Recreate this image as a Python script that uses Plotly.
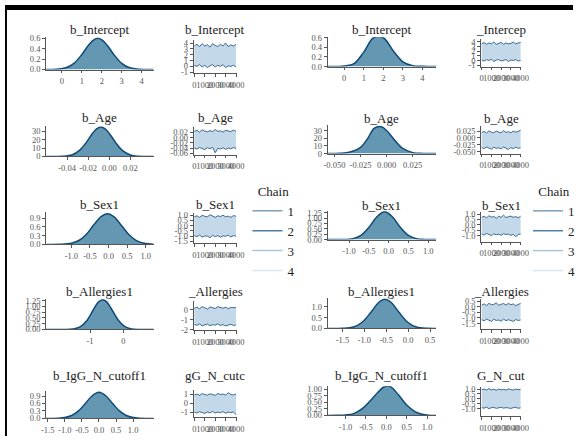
import plotly.graph_objects as go

W, H = 581, 441
FONT = "Liberation Serif"

# ---------------- data ----------------
ITER = [0, 250, 500, 750, 1000, 1250, 1500, 1750, 2000, 2250, 2500, 2750, 3000, 3250, 3500, 3750, 4000]
CHAINS = ["1", "2", "3", "4"]
CHAIN_COLORS = ["#7f9fba", "#4f7ea3", "#a9c6dc", "#dbe7f1"]

# left panel densities
L_int_x = [-0.8, -0.3, 0.2, 0.6, 1.0, 1.3, 1.6, 1.8, 2.0, 2.3, 2.6, 3.0, 3.4, 3.9, 4.6]
L_int_y = [0.0, 0.004, 0.033, 0.119, 0.29, 0.45, 0.57, 0.60, 0.57, 0.45, 0.29, 0.119, 0.033, 0.004, 0.0]
L_age_x = [-0.06, -0.045, -0.035, -0.028, -0.022, -0.016, -0.012, -0.008, -0.004, 0.0, 0.006, 0.012, 0.02, 0.028, 0.042]
L_age_y = [0.0, 0.18, 2.1, 7.5, 16.5, 27.4, 32.9, 35.0, 32.9, 27.4, 16.5, 7.5, 1.7, 0.24, 0.0]
L_sex_x = [-1.68, -1.3, -1.0, -0.8, -0.6, -0.4, -0.2, -0.03, 0.15, 0.35, 0.55, 0.75, 0.95, 1.21]
L_sex_y = [0.0, 0.004, 0.041, 0.134, 0.34, 0.66, 0.95, 1.05, 0.94, 0.64, 0.33, 0.13, 0.038, 0.005]
L_all_x = [-2.32, -1.8, -1.5, -1.3, -1.1, -0.9, -0.75, -0.62, -0.5, -0.35, -0.15, 0.05, 0.25, 0.5, 0.91]
L_all_y = [0.0, 0.0, 0.021, 0.11, 0.38, 0.86, 1.19, 1.30, 1.20, 0.88, 0.40, 0.12, 0.024, 0.002, 0.0]
L_igg_x = [-1.55, -1.2, -1.0, -0.8, -0.6, -0.4, -0.2, 0.0, 0.2, 0.4, 0.6, 0.8, 1.0, 1.2, 1.6]
L_igg_y = [0.0, 0.007, 0.033, 0.116, 0.30, 0.60, 0.91, 1.05, 0.91, 0.60, 0.30, 0.116, 0.033, 0.007, 0.0]

# right panel densities
R_int_x = [-0.85, 0.0, 0.5, 1.0, 1.5, 2.0, 2.5, 3.0, 3.5, 4.0, 4.7]
R_int_y = [0.0, 0.01, 0.06, 0.30, 0.60, 0.60, 0.33, 0.10, 0.02, 0.005, 0.0]
R_age_x = [-0.0566, -0.045, -0.035, -0.025, -0.018, -0.012, -0.005, 0.0, 0.008, 0.015, 0.025, 0.035, 0.0475]
R_age_y = [0.0, 0.3, 2.0, 8.0, 20.0, 33.0, 35.0, 30.0, 17.0, 7.0, 1.2, 0.2, 0.0]
R_sex_x = [-1.54, -1.2, -0.9, -0.7, -0.5, -0.3, -0.1, 0.1, 0.3, 0.5, 0.7, 0.9, 1.2]
R_sex_y = [0.0, 0.002, 0.043, 0.19, 0.56, 1.05, 1.30, 1.05, 0.56, 0.19, 0.043, 0.006, 0.0]
R_all_x = [-1.84, -1.5, -1.25, -1.05, -0.85, -0.68, -0.53, -0.38, -0.21, -0.01, 0.19, 0.44, 0.64]
R_all_y = [0.0, 0.006, 0.069, 0.29, 0.75, 1.19, 1.35, 1.19, 0.75, 0.29, 0.069, 0.006, 0.0]
R_igg_x = [-1.44, -1.2, -1.0, -0.8, -0.6, -0.4, -0.2, -0.05, 0.1, 0.3, 0.5, 0.7, 0.9, 1.22]
R_igg_y = [0.0, 0.01, 0.02, 0.07, 0.25, 0.55, 0.90, 1.10, 1.10, 0.78, 0.40, 0.15, 0.04, 0.0]

# trace envelopes (upper / lower extent of the 4 chains)
L_int_hi = [3.5, 3.8, 3.4, 3.9, 3.5, 3.7, 3.3, 3.9, 3.6, 3.4, 3.8, 3.5, 4.0, 3.4, 3.7, 3.5, 3.8]
L_int_lo = [0.2, 0.0, 0.3, -0.1, 0.2, -0.2, 0.1, 0.3, -0.1, 0.2, 0.0, 0.3, -0.2, 0.1, 0.0, 0.2, -0.1]
L_age_hi = [0.024, 0.028, 0.021, 0.030, 0.025, 0.022, 0.027, 0.023, 0.031, 0.024, 0.026, 0.021, 0.028, 0.025, 0.023, 0.029, 0.024]
L_age_lo = [-0.040, -0.044, -0.038, -0.042, -0.046, -0.039, -0.043, -0.037, -0.058, -0.041, -0.044, -0.039, -0.045, -0.040, -0.043, -0.038, -0.042]
L_sex_hi = [0.85, 0.95, 0.8, 1.0, 0.9, 0.85, 1.05, 0.9, 0.8, 0.95, 0.88, 1.0, 0.85, 0.92, 0.8, 0.97, 0.9]
L_sex_lo = [-0.95, -1.05, -0.9, -1.1, -0.98, -1.0, -1.15, -0.92, -1.05, -0.95, -1.1, -0.97, -1.02, -0.9, -1.08, -0.95, -1.0]
L_all_hi = [0.15, 0.25, 0.1, 0.3, 0.2, 0.05, 0.28, 0.18, 0.12, 0.3, 0.2, 0.15, 0.25, 0.1, 0.22, 0.18, 0.2]
L_all_lo = [-1.45, -1.55, -1.4, -1.6, -1.5, -1.42, -1.58, -1.48, -1.52, -1.4, -1.55, -1.47, -1.6, -1.5, -1.44, -1.56, -1.5]
L_igg_hi = [0.95, 1.05, 0.9, 1.1, 1.0, 0.92, 1.08, 0.97, 0.9, 1.12, 1.0, 1.05, 0.93, 1.2, 1.0, 0.95, 1.05]
L_igg_lo = [-1.0, -1.1, -0.95, -1.05, -1.15, -0.98, -1.08, -0.92, -1.1, -1.0, -1.05, -0.95, -1.12, -1.0, -1.06, -0.97, -1.3]

R_int_hi = [3.6, 3.9, 3.5, 3.8, 3.6, 4.0, 3.5, 3.7, 3.9, 3.5, 3.8, 3.6, 3.7, 4.0, 3.6, 3.8, 3.9]
R_int_lo = [0.1, -0.1, 0.2, 0.0, 0.3, -0.2, 0.1, 0.2, -0.1, 0.0, 0.2, -0.2, 0.1, 0.0, 0.2, -0.1, 0.0]
R_age_hi = [0.020, 0.024, 0.018, 0.026, 0.021, 0.019, 0.025, 0.022, 0.018, 0.027, 0.020, 0.023, 0.019, 0.025, 0.021, 0.024, 0.028]
R_age_lo = [-0.035, -0.039, -0.033, -0.037, -0.041, -0.034, -0.038, -0.036, -0.040, -0.033, -0.037, -0.042, -0.035, -0.039, -0.034, -0.038, -0.036]
R_sex_hi = [0.7, 0.8, 0.65, 0.85, 0.72, 0.78, 0.62, 0.8, 0.7, 0.9, 0.68, 0.75, 0.82, 0.7, 0.78, 0.66, 0.8]
R_sex_lo = [-0.85, -0.95, -0.8, -0.9, -1.0, -0.83, -0.92, -0.87, -0.97, -0.82, -0.9, -0.86, -0.98, -0.88, -1.1, -0.9, -0.85]
R_all_hi = [0.15, 0.25, 0.1, 0.3, 0.18, 0.2, 0.35, 0.12, 0.22, 0.28, 0.15, 0.3, 0.18, 0.25, 0.1, 0.2, 0.3]
R_all_lo = [-1.15, -1.25, -1.1, -1.2, -1.3, -1.12, -1.22, -1.18, -1.28, -1.1, -1.24, -1.15, -1.2, -1.3, -1.14, -1.22, -1.18]
R_igg_hi = [0.95, 1.0, 0.9, 1.05, 0.92, 0.98, 0.88, 1.0, 0.93, 0.97, 0.9, 1.02, 0.95, 0.9, 1.0, 0.94, 0.98]
R_igg_lo = [-0.9, -0.95, -0.85, -1.0, -0.9, -0.88, -0.97, -0.92, -0.86, -0.95, -0.9, -0.93, -0.98, -0.9, -0.87, -0.96, -0.92]

# titles and ticks
L_DENS_TITLES = ["b_Intercept", "b_Age", "b_Sex1", "b_Allergies1", "b_IgG_N_cutoff1"]
L_TRACE_TITLES = ["b_Intercept", "b_Age", "b_Sex1", "_Allergies", "gG_N_cutc"]
R_DENS_TITLES = ["b_Intercept", "b_Age", "b_Sex1", "b_Allergies1", "b_IgG_N_cutoff1"]
R_TRACE_TITLES = ["_Intercep", "b_Age", "b_Sex1", "_Allergies", "G_N_cut"]

ITER_TICKS = [0, 1000, 2000, 3000, 4000]

# ---------------- layout specs (pixels) ----------------
left_rows = [
    dict(dx=L_int_x, dy=L_int_y, xr=[-0.8, 4.6], xt=[0, 1, 2, 3, 4], xl=["0", "1", "2", "3", "4"],
         yr=[0, 0.62], yt=[0, 0.2, 0.4, 0.6], yl=["0.0", "0.2", "0.4", "0.6"],
         hi=L_int_hi, lo=L_int_lo, tyr=[-1.2, 4.5], tyt=[-1, 0, 1, 2, 3, 4], tyl=["-1", "0", "1", "2", "3", "4"],
         dpos=(33, 66), tpos=(36, 70), ty=25),
    dict(dx=L_age_x, dy=L_age_y, xr=[-0.06, 0.042], xt=[-0.04, -0.02, 0.0, 0.02], xl=["-0.04", "-0.02", "0.00", "0.02"],
         yr=[0, 36], yt=[0, 10, 20, 30], yl=["0", "10", "20", "30"],
         hi=L_age_hi, lo=L_age_lo, tyr=[-0.065, 0.04], tyt=[-0.06, -0.04, -0.02, 0.0, 0.02],
         tyl=["-0.06", "-0.04", "-0.02", "0.00", "0.02"],
         dpos=(124, 155), tpos=(125, 153), ty=115),
    dict(dx=L_sex_x, dy=L_sex_y, xr=[-1.68, 1.21], xt=[-1.0, -0.5, 0.0, 0.5, 1.0], xl=["-1.0", "-0.5", "0.0", "0.5", "1.0"],
         yr=[0, 1.1], yt=[0, 0.3, 0.6, 0.9], yl=["0.0", "0.3", "0.6", "0.9"],
         hi=L_sex_hi, lo=L_sex_lo, tyr=[-1.7, 1.2], tyt=[-1.5, -1.0, -0.5, 0.0, 0.5, 1.0],
         tyl=["-1.5", "-1.0", "-0.5", "0.0", "0.5", "1.0"],
         dpos=(212, 245), tpos=(213, 244), ty=204),
    dict(dx=L_all_x, dy=L_all_y, xr=[-2.32, 0.91], xt=[-1, 0], xl=["-1", "0"],
         yr=[0, 1.32], yt=[0, 0.25, 0.5, 0.75, 1.0, 1.25], yl=["0.00", "0.25", "0.50", "0.75", "1.00", "1.25"],
         hi=L_all_hi, lo=L_all_lo, tyr=[-2.05, 0.85], tyt=[-2, -1, 0], tyl=["-2", "-1", "0"],
         dpos=(301, 332), tpos=(303, 333), ty=293),
    dict(dx=L_igg_x, dy=L_igg_y, xr=[-1.55, 1.6], xt=[-1.5, -1.0, -0.5, 0.0, 0.5, 1.0],
         xl=["-1.5", "-1.0", "-0.5", "0.0", "0.5", "1.0"],
         yr=[0, 1.1], yt=[0, 0.3, 0.6, 0.9], yl=["0.0", "0.3", "0.6", "0.9"],
         hi=L_igg_hi, lo=L_igg_lo, tyr=[-1.6, 1.5], tyt=[-1, 0, 1], tyl=["-1", "0", "1"],
         dpos=(395, 423), tpos=(394, 422), ty=379),
]
right_rows = [
    dict(dx=R_int_x, dy=R_int_y, xr=[-0.85, 4.7], xt=[0, 1, 2, 3, 4], xl=["0", "1", "2", "3", "4"],
         yr=[0, 0.61], yt=[0, 0.2, 0.4, 0.6], yl=["0.0", "0.2", "0.4", "0.6"],
         hi=R_int_hi, lo=R_int_lo, tyr=[-1.3, 4.6], tyt=[-1, 0, 1, 2, 3, 4], tyl=["-1", "0", "1", "2", "3", "4"],
         dpos=(33, 63), tpos=(35, 63), ty=25),
    dict(dx=R_age_x, dy=R_age_y, xr=[-0.0566, 0.0475], xt=[-0.05, -0.025, 0.0, 0.025],
         xl=["-0.050", "-0.025", "0.000", "0.025"],
         yr=[0, 37], yt=[0, 10, 20, 30], yl=["0", "10", "20", "30"],
         hi=R_age_hi, lo=R_age_lo, tyr=[-0.057, 0.043], tyt=[-0.05, -0.025, 0.0, 0.025],
         tyl=["-0.050", "-0.025", "0.000", "0.025"],
         dpos=(123, 152), tpos=(124, 152), ty=116),
    dict(dx=R_sex_x, dy=R_sex_y, xr=[-1.54, 1.2], xt=[-1.0, -0.5, 0.0, 0.5, 1.0], xl=["-1.0", "-0.5", "0.0", "0.5", "1.0"],
         yr=[0, 1.32], yt=[0, 0.25, 0.5, 0.75, 1.0, 1.25], yl=["0.00", "0.25", "0.50", "0.75", "1.00", "1.25"],
         hi=R_sex_hi, lo=R_sex_lo, tyr=[-1.55, 1.18], tyt=[-1.0, -0.5, 0.0, 0.5, 1.0],
         tyl=["-1.0", "-0.5", "0.0", "0.5", "1.0"],
         dpos=(211, 240), tpos=(212, 242), ty=205),
    dict(dx=R_all_x, dy=R_all_y, xr=[-1.84, 0.64], xt=[-1.5, -1.0, -0.5, 0.0, 0.5],
         xl=["-1.5", "-1.0", "-0.5", "0.0", "0.5"],
         yr=[0, 1.4], yt=[0, 0.5, 1.0], yl=["0.0", "0.5", "1.0"],
         hi=R_all_hi, lo=R_all_lo, tyr=[-2.02, 0.67], tyt=[-1.5, -1.0, -0.5, 0.0, 0.5],
         tyl=["-1.5", "-1.0", "-0.5", "0.0", "0.5"],
         dpos=(300, 331), tpos=(301, 332), ty=293),
    dict(dx=R_igg_x, dy=R_igg_y, xr=[-1.44, 1.22], xt=[-1.0, -0.5, 0.0, 0.5, 1.0], xl=["-1.0", "-0.5", "0.0", "0.5", "1.0"],
         yr=[0, 1.12], yt=[0, 0.25, 0.5, 0.75, 1.0], yl=["0.00", "0.25", "0.50", "0.75", "1.00"],
         hi=R_igg_hi, lo=R_igg_lo, tyr=[-1.8, 1.2], tyt=[-1.0, -0.5, 0.0, 0.5, 1.0],
         tyl=["-1.0", "-0.5", "0.0", "0.5", "1.0"],
         dpos=(390, 420), tpos=(391, 421), ty=379),
]

panels = [
    dict(rows=left_rows, dens_x=(42, 152), trace_x=(193, 237), dtitles=L_DENS_TITLES, ttitles=L_TRACE_TITLES,
         legend="legend"),
    dict(rows=right_rows, dens_x=(330, 441), trace_x=(487, 528), dtitles=R_DENS_TITLES, ttitles=R_TRACE_TITLES,
         legend="legend2"),
]

DENS_FILL = "#6497b1"
DENS_LINE = "#0f4a78"
BAND_FILL = "#c3d8e8"
BAND_LINE = "#2b5d85"
AXIS_COL = "#555555"
TICK_FONT = dict(family=FONT, size=8.5, color="#555555")
TITLE_FONT = dict(family=FONT, size=13, color="#222222")

fig = go.Figure()
layout = dict(
    width=W, height=H, autosize=False,
    margin=dict(l=0, r=0, t=0, b=0),
    paper_bgcolor="white", plot_bgcolor="rgba(0,0,0,0)",
    showlegend=True,
    annotations=[], shapes=[],
)


def xdom(a, b):
    return [a / W, b / W]


def ydom(top, bot):
    return [1 - bot / H, 1 - top / H]


def axis_common():
    return dict(showline=True, linecolor=AXIS_COL, linewidth=0.8, ticks="outside", ticklen=3,
                tickcolor=AXIS_COL, tickwidth=0.8, showgrid=False, zeroline=False, tickfont=dict(TICK_FONT),
                fixedrange=True, tickangle=0)


ax = 0
for p in panels:
    for r, row in enumerate(p["rows"]):
        # density subplot
        ax += 1
        xa, ya = f"x{ax}", f"y{ax}"
        fig.add_trace(go.Scatter(x=row["dx"], y=row["dy"], mode="lines", fill="tozeroy",
                                 fillcolor=DENS_FILL, line=dict(color=DENS_LINE, width=1.5, shape="spline"),
                                 xaxis=xa, yaxis=ya, showlegend=False, hoverinfo="skip"))
        layout[f"xaxis{ax}"] = dict(domain=xdom(*p["dens_x"]), range=row["xr"], anchor=ya,
                                    tickvals=row["xt"], ticktext=row["xl"], **axis_common())
        layout[f"yaxis{ax}"] = dict(domain=ydom(*row["dpos"]), range=row["yr"], anchor=xa,
                                    tickvals=row["yt"], ticktext=row["yl"], **axis_common())
        layout["annotations"].append(dict(text=p["dtitles"][r], x=(p["dens_x"][0] + p["dens_x"][1]) / 2 / W,
                                          y=1 - row["ty"] / H, xref="paper", yref="paper", showarrow=False,
                                          xanchor="center", yanchor="middle", font=TITLE_FONT))
        # trace subplot
        ax += 1
        xa, ya = f"x{ax}", f"y{ax}"
        fig.add_trace(go.Scatter(x=ITER, y=row["lo"], mode="lines", line=dict(color=BAND_LINE, width=0.9),
                                 xaxis=xa, yaxis=ya, showlegend=False, hoverinfo="skip"))
        fig.add_trace(go.Scatter(x=ITER, y=row["hi"], mode="lines", fill="tonexty", fillcolor=BAND_FILL,
                                 line=dict(color=BAND_LINE, width=0.9),
                                 xaxis=xa, yaxis=ya, showlegend=False, hoverinfo="skip"))
        layout[f"xaxis{ax}"] = dict(domain=xdom(*p["trace_x"]), range=[-60, 4060], anchor=ya,
                                    tickvals=ITER_TICKS, ticktext=[str(v) for v in ITER_TICKS], **axis_common())
        layout[f"yaxis{ax}"] = dict(domain=ydom(*row["tpos"]), range=row["tyr"], anchor=xa,
                                    tickvals=row["tyt"], ticktext=row["tyl"], **axis_common())
        layout["annotations"].append(dict(text=p["ttitles"][r], x=(p["trace_x"][0] + p["trace_x"][1]) / 2 / W,
                                          y=1 - row["ty"] / H, xref="paper", yref="paper", showarrow=False,
                                          xanchor="center", yanchor="middle", font=TITLE_FONT))
    # chain legend entries
    for c, col in zip(CHAINS, CHAIN_COLORS):
        fig.add_trace(go.Scatter(x=[None], y=[None], mode="lines", name=c, line=dict(color=col, width=1.5),
                                 xaxis="x1", yaxis="y1", legend=p["legend"], hoverinfo="skip"))

legend_style = dict(
    title=dict(text="Chain", side="top center", font=dict(family=FONT, size=13, color="#222222")),
    font=dict(family=FONT, size=13, color="#222222"),
    bgcolor="rgba(0,0,0,0)", borderwidth=0, itemwidth=30, tracegroupgap=0, traceorder="normal",
    xanchor="left", yanchor="top",
)
layout["legend"] = dict(x=248 / W, y=1 - 178 / H, **legend_style)
layout["legend2"] = dict(x=535 / W, y=1 - 178 / H, **legend_style)

# screenshot frame: black bar on top, thin black line on the left
layout["shapes"].append(dict(type="rect", xref="paper", yref="paper", x0=0, x1=1, y0=1 - 5 / H, y1=1,
                             fillcolor="black", line=dict(width=0)))
layout["shapes"].append(dict(type="rect", xref="paper", yref="paper", x0=0, x1=2 / W, y0=0, y1=1,
                             fillcolor="black", line=dict(width=0)))

fig.update_layout(**layout)
fig.write_html("out.html")
